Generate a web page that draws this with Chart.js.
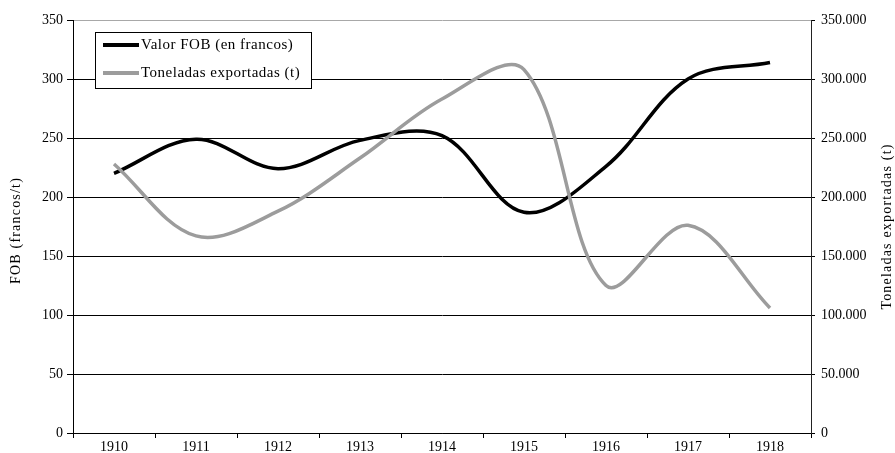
<!DOCTYPE html>
<html>
<head>
<meta charset="utf-8">
<title>Valor FOB y toneladas exportadas</title>
<script src="https://cdn.jsdelivr.net/npm/chart.js@4"></script>
<style>
    body { margin: 0; background: #fff; }
    canvas { display: block; }
</style>
</head>
<body>
<canvas id="chart" width="895" height="453"></canvas>
<script>
// --- Data ---
const years = ['1910', '1911', '1912', '1913', '1914', '1915', '1916', '1917', '1918'];
const valorFob = [220, 249, 224, 248, 252, 187, 226, 300, 314];
const toneladas = [228000, 167000, 188000, 233000, 283000, 308000, 125000, 176000, 106000];
const fobTicks = [0, 50, 100, 150, 200, 250, 300, 350];
const tonTicks = [0, 50000, 100000, 150000, 200000, 250000, 300000, 350000];

const serif = 'Liberation Serif';

// 350000 -> "350.000"
function miles(v) {
    return String(v).replace(/\B(?=(\d{3})+(?!\d))/g, '.');
}

// legend box drawn inside the plot, top left, with a border
const boxLegend = {
    id: 'boxLegend',
    afterDatasetsDraw(chart) {
        const ctx = chart.ctx;
        const area = chart.chartArea;
        const x = area.left + 22;
        const y = area.top + 12;
        ctx.save();
        ctx.fillStyle = '#fff';
        ctx.fillRect(x, y, 216, 56);
        ctx.strokeStyle = '#000';
        ctx.lineWidth = 1;
        ctx.strokeRect(x + 0.5, y + 0.5, 216, 56);
        ctx.font = '15px "' + serif + '"';
        ctx.letterSpacing = '0.5px';
        ctx.textBaseline = 'middle';
        // black series first, as in the original legend
        const rows = [chart.data.datasets[1], chart.data.datasets[0]];
        rows.forEach((ds, i) => {
            const cy = y + 13 + i * 28;
            ctx.strokeStyle = ds.borderColor;
            ctx.lineWidth = 4;
            ctx.beginPath();
            ctx.moveTo(x + 8, cy);
            ctx.lineTo(x + 44, cy);
            ctx.stroke();
            ctx.fillStyle = '#000';
            ctx.fillText(ds.label, x + 46, cy);
        });
        ctx.restore();
    }
};

// both axis titles read bottom to top (Chart.js turns the right one the other way)
const axisTitles = {
    id: 'axisTitles',
    afterDraw(chart) {
        const ctx = chart.ctx;
        const area = chart.chartArea;
        const midY = (area.top + area.bottom) / 2;
        const put = (text, x, y) => {
            ctx.save();
            ctx.translate(x, y);
            ctx.rotate(-Math.PI / 2);
            ctx.font = '14px "' + serif + '"';
            ctx.letterSpacing = '1.2px';
            ctx.fillStyle = '#000';
            ctx.textAlign = 'center';
            ctx.textBaseline = 'middle';
            ctx.fillText(text, 0, 0);
            ctx.restore();
        };
        put('FOB (francos/t)', 16, midY + 4);
        put('Toneladas exportadas (t)', 887, midY);
    }
};

new Chart(document.getElementById('chart').getContext('2d'), {
    type: 'line',
    data: {
        labels: years,
        datasets: [{
            label: 'Toneladas exportadas (t)',
            data: toneladas,
            yAxisID: 'y1',
            borderColor: '#9c9c9c',
            borderWidth: 3.5,
            tension: 0.35,
            pointRadius: 0,
            fill: false,
            order: 0
        }, {
            label: 'Valor FOB (en francos)',
            data: valorFob,
            yAxisID: 'y',
            borderColor: '#000',
            borderWidth: 3.5,
            tension: 0.35,
            pointRadius: 0,
            fill: false,
            order: 1
        }]
    },
    options: {
        responsive: false,
        devicePixelRatio: 1,
        animation: false,
        layout: { padding: { top: 20, left: 0, right: 0, bottom: 0 } },
        plugins: {
            legend: { display: false },
            tooltip: { enabled: false }
        },
        scales: {
            x: {
                type: 'category',
                offset: true,
                grid: {
                    offset: true,
                    drawOnChartArea: false,
                    color: '#000',
                    tickLength: 5
                },
                border: { color: '#000' },
                ticks: {
                    color: '#000',
                    font: { family: serif, size: 14 },
                    padding: 1,
                    maxRotation: 0
                },
                afterFit(scale) { scale.height = 20; }
            },
            y: {
                position: 'left',
                min: 0,
                max: 350,
                afterBuildTicks(scale) { scale.ticks = fobTicks.map(v => ({ value: v })); },
                grid: {
                    color: (c) => (c.tick && c.tick.value === 350 ? '#a8a8a8' : '#000'),
                    tickColor: '#000',
                    tickLength: 6
                },
                border: { color: '#000' },
                ticks: {
                    color: '#000',
                    font: { family: serif, size: 14 },
                    padding: 4
                },
                afterFit(scale) { scale.width = 73; }
            },
            y1: {
                position: 'right',
                min: 0,
                max: 350000,
                afterBuildTicks(scale) { scale.ticks = tonTicks.map(v => ({ value: v })); },
                grid: {
                    drawOnChartArea: false,
                    color: '#000',
                    tickLength: 4
                },
                border: { color: '#222' },
                ticks: {
                    color: '#000',
                    font: { family: serif, size: 14 },
                    padding: 6,
                    callback: (v) => miles(v)
                },
                afterFit(scale) { scale.width = 84; }
            }
        }
    },
    plugins: [boxLegend, axisTitles]
});
</script>
</body>
</html>
